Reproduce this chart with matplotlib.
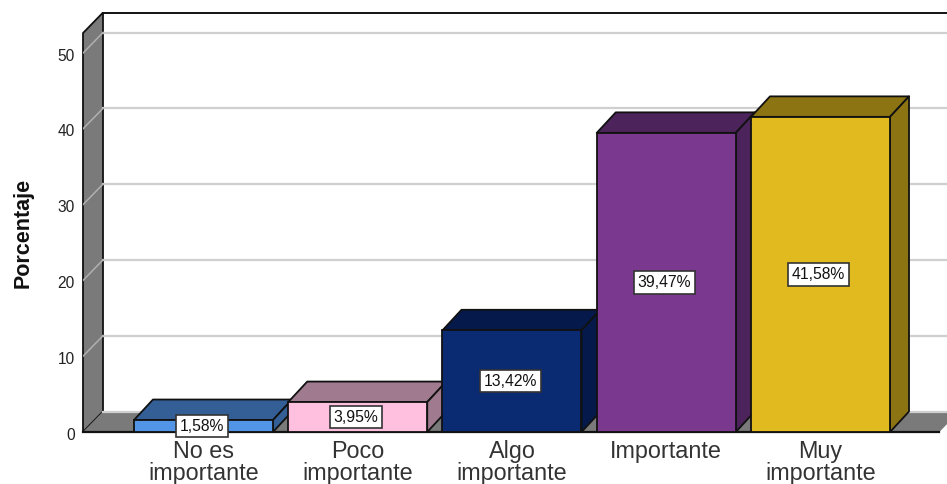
import matplotlib
matplotlib.use("Agg")
import matplotlib.pyplot as plt
from matplotlib.patches import Polygon
from matplotlib.transforms import ScaledTranslation

plt.rcParams['font.family'] = ['Liberation Sans', 'DejaVu Sans']

categories = ["No es\nimportante", "Poco\nimportante", "Algo\nimportante", "Importante", "Muy\nimportante"]
values = [1.58, 3.95, 13.42, 39.47, 41.58]
value_labels = ["1,58%", "3,95%", "13,42%", "39,47%", "41,58%"]
front_colors = ["#5294E6", "#FFC0E0", "#0A2A72", "#7A388E", "#E0BA1E"]
depth_colors = ["#335F96", "#A07A8E", "#051A4A", "#4C235A", "#8C7412"]
y_ticks = [0, 10, 20, 30, 40, 50]

W, H = 947, 484
fig = plt.figure(figsize=(W / 100, H / 100), dpi=100, facecolor="white")
ax = fig.add_axes([83 / W, (H - 432) / H, (W - 83) / W, 432 / H])
ax.set_xlim(-0.781, 4.82)
ax.set_ylim(0, 57.0)
for s in ax.spines.values():
    s.set_visible(False)

DX = 20 / 154.25   # depth in x units
DY = 20.5 / 7.58   # depth in y units
XL = -0.781
XR = 4.9
YTOP = 50 + (33 - 53) / -7.58
WALL = "#7A7A7A"
EDGE = "#111111"

# walls and floor
ax.add_patch(Polygon([(XL, 0), (XL + DX, DY), (XL + DX, YTOP + DY), (XL, YTOP)],
                     closed=True, fc=WALL, ec=EDGE, lw=1.3, zorder=1, clip_on=False))
ax.add_patch(Polygon([(XL, 0), (XR - DX, 0), (XR, DY), (XL + DX, DY)],
                     closed=True, fc=WALL, ec="none", zorder=1, clip_on=True))
ax.plot([XL, XR - DX], [0, 0], color=EDGE, lw=1.6, zorder=2, clip_on=False)

# gridlines
for t in y_ticks:
    ax.plot([XL + DX, XR], [t + DY, t + DY], color="#CFCFCF", lw=1.6, zorder=1.5)
    if t > 0:
        ax.plot([XL, XL + DX], [t, t + DY], color="#B0B0B0", lw=1.1, zorder=1.5)
ax.plot([XL + DX, XR], [YTOP + DY, YTOP + DY], color=EDGE, lw=1.4, zorder=2, clip_on=False)

# bars
bar_w = 139 / 154.25
for i, (v, fc, dc) in enumerate(zip(values, front_colors, depth_colors)):
    z = 3 + i
    l, r = i - bar_w / 2, i + bar_w / 2
    ax.bar(i, v, width=bar_w, color=fc, edgecolor=EDGE, linewidth=1.3, zorder=z + 0.2)
    ax.add_patch(Polygon([(l, v), (l + DX * 0.95, v + DY), (r + DX * 0.95, v + DY), (r, v)],
                         closed=True, fc=dc, ec=EDGE, lw=1.3, zorder=z, joinstyle="round"))
    ax.add_patch(Polygon([(r, 0), (r + DX * 0.95, DY), (r + DX * 0.95, v + DY), (r, v)],
                         closed=True, fc=dc, ec=EDGE, lw=1.3, zorder=z, joinstyle="round"))

# value labels
for i, (v, lab) in enumerate(zip(values, value_labels)):
    ax.text(i - 0.012, v / 2, lab, ha="center", va="center", fontsize=11.3, color="#111111", zorder=20,
            bbox=dict(boxstyle="square,pad=0.24", fc="white", ec="#333333", lw=1.2))

ax.set_xticks(range(len(categories)))
ax.set_xticklabels(categories, fontsize=16.8, color="#333333", linespacing=0.95)
ax.set_yticks(y_ticks)
ax.set_yticklabels([str(t) for t in y_ticks], fontsize=11.2, color="#222222")
ax.tick_params(axis="x", length=0, pad=6)
ax.tick_params(axis="y", length=0, pad=6)
shift = ScaledTranslation(0, -1.5 / 100, fig.dpi_scale_trans)
for lab in ax.get_yticklabels():
    lab.set_transform(lab.get_transform() + shift)
fig.text(23 / W, 1 - 233 / H, "Porcentaje", rotation=90, ha="center", va="center",
         fontsize=15.5, fontweight="bold", color="#111111")
ax.patch.set_alpha(0)
fig.savefig("out.png", dpi=100)
